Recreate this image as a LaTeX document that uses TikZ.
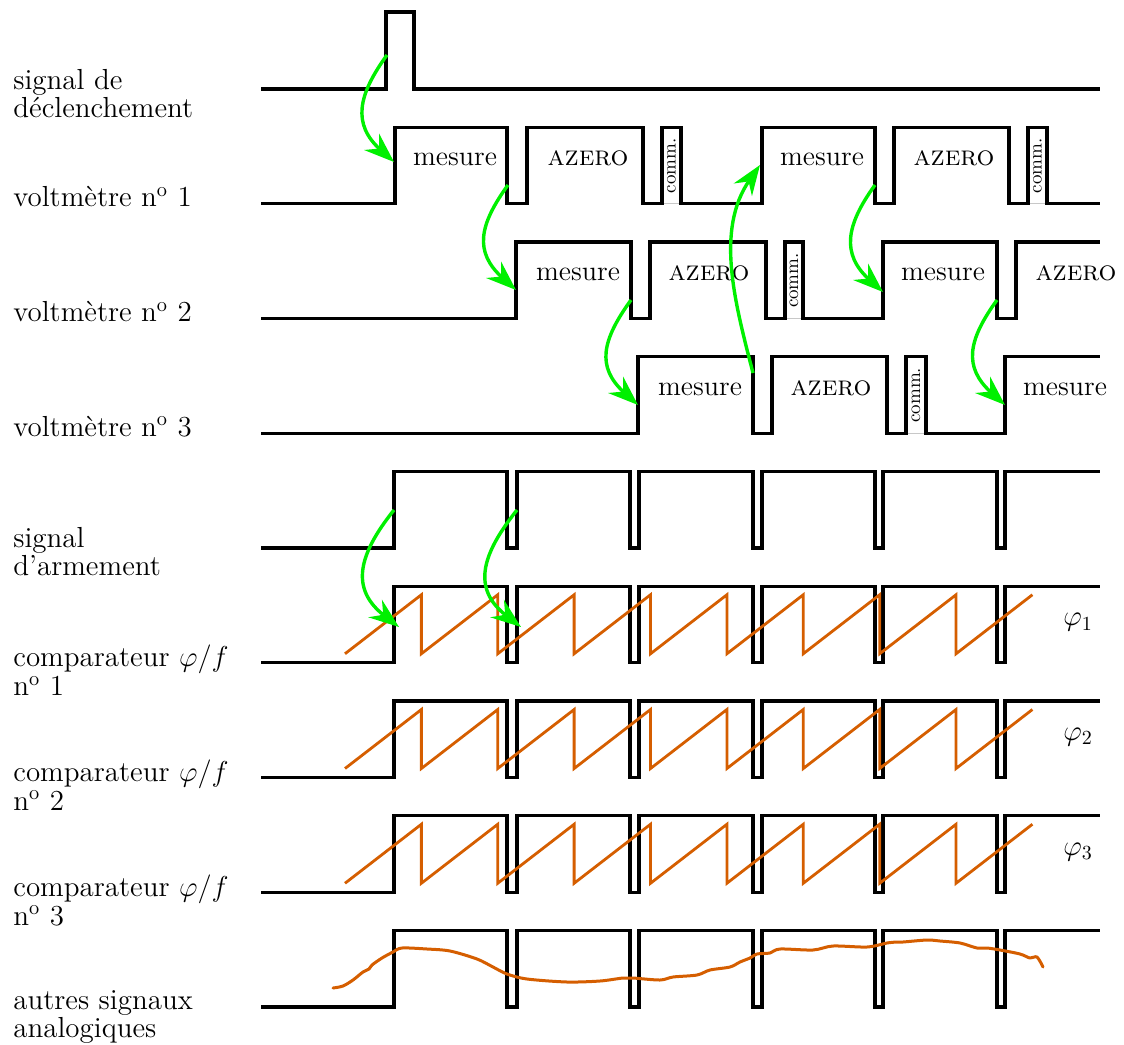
\documentclass[tikz,border=0pt]{standalone}
\usetikzlibrary{arrows.meta}
\definecolor{sawor}{RGB}{213,94,0}
\definecolor{arrgreen}{RGB}{0,240,0}
\definecolor{commgray}{RGB}{200,200,200}
\begin{document}
\begin{tikzpicture}[x=0.5pt,y=-0.5pt,
  sig/.style={line width=1.7pt, black},
  saw/.style={line width=1.4pt, sawor, line join=miter},
  wavy/.style={line width=1.5pt, sawor, line cap=round, line join=round},
  garrow/.style={line width=1.7pt, arrgreen, -{Stealth[length=15pt,width=11pt,inset=5pt]}},
  commbot/.style={line width=0.5pt, commgray},
  lab/.style={anchor=base west, inner sep=0pt, font=\fontsize{14.5}{17}\selectfont},
  boxtxt/.style={anchor=base, inner sep=0pt, font=\fontsize{14}{16}\selectfont},
  commtxt/.style={rotate=90, inner sep=0pt, font=\fontsize{9.5}{11}\selectfont},
  philab/.style={inner sep=0pt, font=\fontsize{14}{16}\selectfont}]
\useasboundingbox (0,0) rectangle (1124,1044);

% ---------- left labels ----------
\node[lab] (l0) at (13,89) {\vtop{\baselineskip=12.5pt\hbox{signal de}\hbox{déclenchement}}};
\node[lab] (l1) at (13,206.75) {voltmètre n\textsuperscript{o} 1};
\node[lab] (l2) at (13,321.5) {voltmètre n\textsuperscript{o} 2};
\node[lab] (l3) at (13,436.25) {voltmètre n\textsuperscript{o} 3};
\node[lab] (l4) at (13,547) {\vtop{\baselineskip=13pt\hbox{signal}\hbox{d’armement}}};
\node[lab] (l5) at (13,666.75) {\vtop{\baselineskip=13pt\hbox{comparateur $\varphi/f$}\hbox{n\textsuperscript{o} 1}}};
\node[lab] (l6) at (13,781.5) {\vtop{\baselineskip=13pt\hbox{comparateur $\varphi/f$}\hbox{n\textsuperscript{o} 2}}};
\node[lab] (l7) at (13,896.25) {\vtop{\baselineskip=13pt\hbox{comparateur $\varphi/f$}\hbox{n\textsuperscript{o} 3}}};
\node[lab] (l8) at (13,1009) {\vtop{\baselineskip=12pt\hbox{autres signaux}\hbox{analogiques}}};

% ---------- trigger ----------
\draw[sig] (261,89) -| (386,12) -| (414,89) -- (1100,89);

% ---------- voltmeter 1 ----------
\draw[commbot] (662,203.75) -- (681,203.75);
\draw[commbot] (1028,203.75) -- (1047,203.75);
\draw[sig] (261,203.75) -| (395,127.25) -| (507,203.75) -| (527,127.25)
  -| (643,203.75) -| (662,127.25) -| (681,203.75) -| (762,127.25)
  -| (875,203.75) -| (894,127.25) -| (1009,203.75) -| (1028,127.25)
  -| (1047,203.75) -- (1100,203.75);

% ---------- voltmeter 2 ----------
\draw[commbot] (785,318.5) -- (803,318.5);
\draw[sig] (261,318.5) -| (516,242) -| (631,318.5) -| (650,242)
  -| (766,318.5) -| (785,242) -| (803,318.5) -| (883,242)
  -| (997,318.5) -| (1016,242) -- (1100,242);

% ---------- voltmeter 3 ----------
\draw[commbot] (906,433.25) -- (926,433.25);
\draw[sig] (261,433.25) -| (638,356.75) -| (753,433.25) -| (772,356.75)
  -| (887,433.25) -| (906,356.75) -| (926,433.25) -| (1005,356.75) -- (1100,356.75);

% ---------- box texts ----------
\node[boxtxt] (m11) at (455,165.75) {mesure};
\node[boxtxt] (z11) at (588,165.75) {\textsc{azero}};
\node[commtxt] (c11) at (671.5,165.75) {comm.};
\node[boxtxt] (m12) at (822,165.75) {mesure};
\node[boxtxt] (z12) at (954,165.75) {\textsc{azero}};
\node[commtxt] (c12) at (1037.5,165.75) {comm.};

\node[boxtxt] (m21) at (578,280.5) {mesure};
\node[boxtxt] (z21) at (709,280.5) {\textsc{azero}};
\node[commtxt] (c21) at (794,280.5) {comm.};
\node[boxtxt] (m22) at (943,280.5) {mesure};
\node[boxtxt] (z22) at (1076,280.5) {\textsc{azero}};

\node[boxtxt] (m31) at (700,395.25) {mesure};
\node[boxtxt] (z31) at (831,395.25) {\textsc{azero}};
\node[commtxt] (c31) at (916,395.25) {comm.};
\node[boxtxt] (m32) at (1065,395.25) {mesure};

% ---------- arming-type square waves ----------
\foreach \L in {548,662.75,777.5,892.25,1007} {
  \pgfmathsetmacro\H{\L-76.5}
  \draw[sig] (261,\L) -| (394,\H) -| (507,\L) -| (517,\H) -| (630,\L) -| (639,\H)
    -| (753,\L) -| (762,\H) -| (875,\L) -| (883,\H) -| (997,\L) -| (1005,\H) -- (1100,\H);
}

% ---------- sawtooth ramps ----------
\foreach \L/\i in {662.75/1,777.5/2,892.25/3} {
  \pgfmathsetmacro\H{\L-76.5}
  \pgfmathsetmacro\B{\L-9}
  \pgfmathsetmacro\T{\H+8.5}
  \draw[saw] (345,\B) \foreach \k in {1,...,8} { -- ({345+76.38*\k},\T) -- ({345+76.38*\k},\B) } -- (1032.4,\T);
  \node[philab] (phi\i) at (1078,\H+36.25) {$\varphi_{\i}$};
}

% ---------- other analog signals ----------
\draw[wavy] plot[smooth, tension=0.5] coordinates {
 (333,988) (343,986) (353,980) (363,972) (369,969) (372,965) (382,958) (393,952)
 (402,948) (427,949) (450,951) (477,959) (493,967) (507,974) (527,979) (567,982)
 (600,981) (623,978) (633,978) (660,980) (673,977) (697,975) (710,970) (730,967)
 (740,962) (750,958) (757,954) (770,953) (780,949) (813,950) (833,946) (867,947)
 (887,943) (897,942) (903,942) (927,940) (940,941) (960,943) (977,948) (987,948)
 (1000,950) (1020,954) (1030,958) (1037,957) (1043,967)};

% ---------- green causality arrows ----------
\coordinate (a1s) at (387,55);   \coordinate (a1e) at (394,162);
\coordinate (a2s) at (508,185);  \coordinate (a2e) at (516,290);
\coordinate (a3s) at (631,300);  \coordinate (a3e) at (638,405);
\coordinate (a5s) at (875,185);  \coordinate (a5e) at (883,292);
\coordinate (a6s) at (997,300);  \coordinate (a6e) at (1005,405);
\coordinate (a4s) at (753,373);  \coordinate (a4e) at (760,165);
\coordinate (a7s) at (394,510);  \coordinate (a7e) at (399,627);
\coordinate (a8s) at (517,510);  \coordinate (a8e) at (521,627);

\foreach \s/\e in {a1s/a1e,a2s/a2e,a3s/a3e,a5s/a5e,a6s/a6e}
  \draw[garrow] (\s) .. controls +(-29,40) and +(-42,-38) .. (\e);
\draw[garrow] (a4s) .. controls +(-18,-70) and +(-45,65) .. (a4e);
\foreach \s/\e in {a7s/a7e,a8s/a8e}
  \draw[garrow] (\s) .. controls +(-36,45) and +(-49,-38) .. (\e);
\end{tikzpicture}
\end{document}
